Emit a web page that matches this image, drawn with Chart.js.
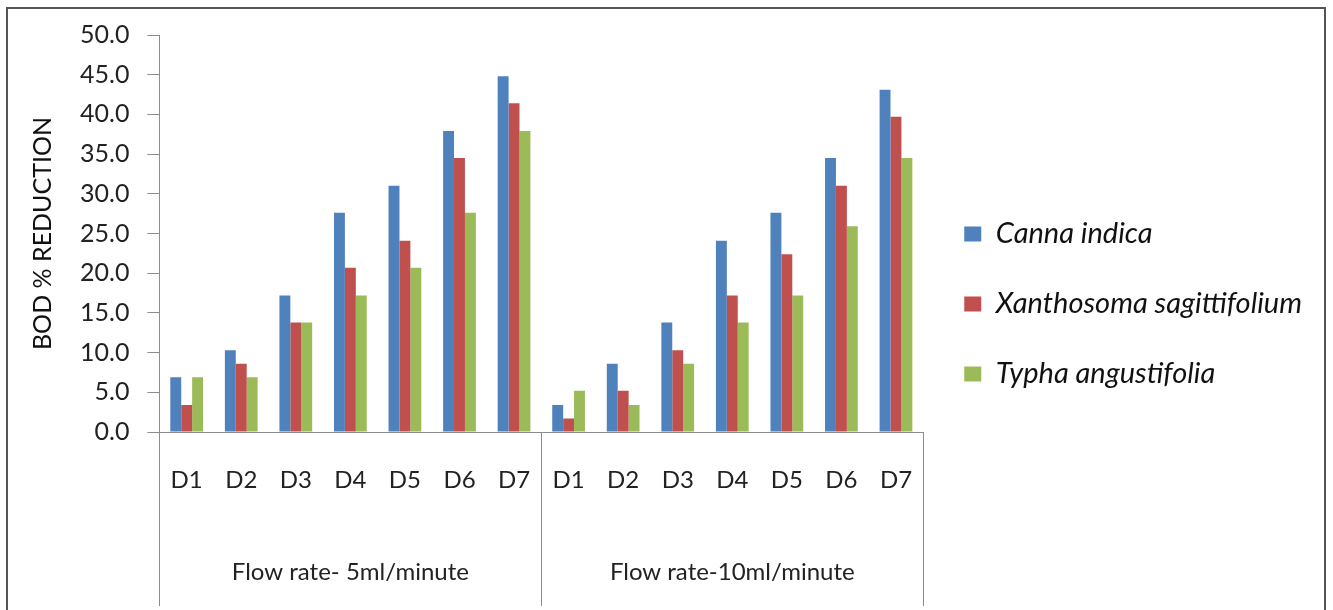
<!DOCTYPE html>
<html>
<head>
<meta charset="utf-8">
<script src="https://cdn.jsdelivr.net/npm/chart.js@4"></script>
<style>
    html, body { margin: 0; padding: 0; background: #fff; }
    #wrap { position: relative; width: 1333px; height: 610px; overflow: hidden; }
    #frame { position: absolute; left: 6px; top: 7px; width: 1316px; height: 640px; border: 2px solid #555; pointer-events: none; }
</style>
</head>
<body>
<div id="wrap">
    <canvas id="bodChart" width="1333" height="610"></canvas>
    <div id="frame"></div>
</div>
<script>
const days = ['D1', 'D2', 'D3', 'D4', 'D5', 'D6', 'D7', 'D1', 'D2', 'D3', 'D4', 'D5', 'D6', 'D7'];
const flowRates = ['Flow rate- 5ml/minute', 'Flow rate-10ml/minute'];
const yTicks = [0, 5, 10, 15, 20, 25, 30, 35, 40, 45, 50];

const cannaIndica = [6.9, 10.3, 17.2, 27.6, 31.0, 37.9, 44.8, 3.4, 8.6, 13.8, 24.1, 27.6, 34.5, 43.1];
const xanthosoma = [3.4, 8.6, 13.8, 20.7, 24.1, 34.5, 41.4, 1.7, 5.2, 10.3, 17.2, 22.4, 31.0, 39.7];
const typha = [6.9, 6.9, 13.8, 17.2, 20.7, 27.6, 37.9, 5.2, 3.4, 8.6, 13.8, 17.2, 25.9, 34.5];

const FONT = 'Lato, "Liberation Sans", sans-serif';

// separator lines under the x axis, at the edges of each flow-rate group
const groupLines = {
    id: 'groupLines',
    afterLayout(chart) {
        // legend sits a bit higher than the full canvas height would centre it
        chart.legend.bottom = 573;
        chart.legend.height = chart.legend.bottom - chart.legend.top;
    },
    afterDraw(chart) {
        const x = chart.scales.x;
        const ctx = chart.ctx;
        const half = (x.getPixelForValue(1) - x.getPixelForValue(0)) / 2;
        const edges = [x.left, x.getPixelForValue(6) + half, x.right];
        ctx.save();
        ctx.strokeStyle = '#8c8c8c';
        ctx.lineWidth = 1;
        edges.forEach(px => {
            const p = Math.round(px) + 0.5;
            ctx.beginPath();
            ctx.moveTo(p, chart.chartArea.bottom);
            ctx.lineTo(p, chart.height - 4);
            ctx.stroke();
        });
        ctx.restore();
    }
};

const data = {
    labels: days,
    datasets: [
        { label: 'Canna indica', data: cannaIndica, backgroundColor: '#4f81bd' },
        { label: 'Xanthosoma sagittifolium', data: xanthosoma, backgroundColor: '#c0504d' },
        { label: 'Typha angustifolia', data: typha, backgroundColor: '#9bbb59' }
    ]
};

const config = {
    type: 'bar',
    data: data,
    options: {
        responsive: false,
        animation: false,
        layout: { padding: { left: 28, top: 35, right: 21, bottom: 0 } },
        datasets: {
            bar: { categoryPercentage: 0.6, barPercentage: 1.0 }
        },
        scales: {
            y: {
                min: 0,
                max: 50,
                afterBuildTicks: scale => { scale.ticks = yTicks.map(v => ({ value: v })); },
                ticks: {
                    autoSkip: false,
                    color: '#222',
                    padding: 18,
                    font: { family: FONT, size: 25 },
                    callback: v => v.toFixed(1)
                },
                grid: { drawOnChartArea: false, drawTicks: true, tickLength: 12, color: '#8c8c8c' },
                border: { display: true, color: '#8c8c8c' },
                title: {
                    display: true,
                    text: 'BOD % REDUCTION',
                    color: '#111',
                    font: { family: FONT, size: 25 },
                    padding: { top: 0, bottom: 4 }
                }
            },
            x: {
                ticks: {
                    color: '#222',
                    padding: 34,
                    maxRotation: 0,
                    font: { family: FONT, size: 24 }
                },
                grid: { display: false, drawTicks: false },
                border: { display: true, color: '#8c8c8c' },
                afterFit: scale => { scale.height = 95; }
            },
            x2: {
                type: 'category',
                position: 'bottom',
                labels: flowRates,
                offset: true,
                ticks: {
                    color: '#222',
                    padding: 31,
                    maxRotation: 0,
                    font: { family: FONT, size: 24 }
                },
                grid: { display: false, drawTicks: false },
                border: { display: false },
                afterFit: scale => { scale.height = 83; }
            }
        },
        plugins: {
            legend: {
                position: 'right',
                maxWidth: 420,
                labels: {
                    boxWidth: 17,
                    boxHeight: 15,
                    padding: 41,
                    color: '#111',
                    font: { family: FONT, size: 29, style: 'italic' }
                }
            },
            tooltip: { enabled: false }
        }
    },
    plugins: [groupLines]
};

new Chart(document.getElementById('bodChart'), config);
</script>
</body>
</html>
